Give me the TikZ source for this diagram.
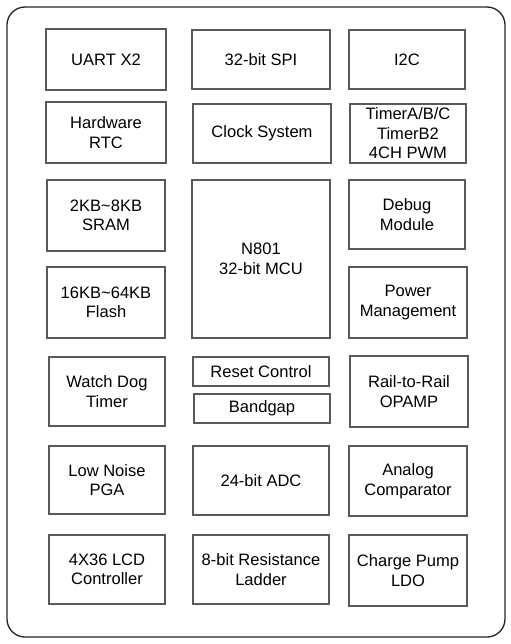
\documentclass[tikz,border=0pt]{standalone}
\usepackage{fontspec}
\setmainfont{Liberation Sans}

\begin{document}
\begin{tikzpicture}[x=0.75pt, y=-0.75pt,
        blk/.style={draw=black!65, line width=0.8pt, align=center, inner sep=0pt,
            font=\fontsize{12.4}{14.6}\selectfont}]
        \useasboundingbox (0, 0) rectangle (511, 644);
        \draw [black!85, line width=1pt, rounded corners=13.5pt] (7, 7) rectangle (505, 637);
        % 左列
        \node [blk, minimum width=90pt, minimum height=45.75pt] (uart) at (106, 59.5) {UART X2};
        \node [blk, minimum width=90pt, minimum height=45.75pt] (rtc) at (106, 132.5) {Hardware\\RTC};
        \node [blk, minimum width=88.5pt, minimum height=53.25pt] (sram) at (106, 215.5) {2KB\textasciitilde 8KB\\SRAM};
        \node [blk, minimum width=88.5pt, minimum height=53.25pt] (flash) at (106, 302.5) {16KB\textasciitilde 64KB\\Flash};
        \node [blk, minimum width=87pt, minimum height=51.75pt] (wdt) at (107, 391.5) {Watch Dog\\Timer};
        \node [blk, minimum width=87pt, minimum height=51pt] (pga) at (107, 480) {Low Noise\\PGA};
        \node [blk, minimum width=87pt, minimum height=51.75pt] (lcd) at (107, 569.5) {4X36 LCD\\Controller};
        % 中列
        \node [blk, minimum width=103.5pt, minimum height=44.25pt] (spi) at (261, 59.5) {32-bit SPI};
        \node [blk, minimum width=103.5pt, minimum height=44.25pt] (clk) at (262, 133.5) {Clock System};
        \node [blk, minimum width=103.5pt, minimum height=118.5pt] (mcu) at (261, 259) {N801\\32-bit MCU};
        \node [blk, minimum width=102pt, minimum height=21.75pt] (rst) at (261, 371.5) {Reset Control};
        \node [blk, minimum width=102pt, minimum height=21.75pt] (bg) at (262, 408.5) {Bandgap};
        \node [blk, minimum width=102pt, minimum height=51.75pt] (adc) at (261, 480.5) {24-bit ADC};
        \node [blk, minimum width=102pt, minimum height=51.75pt] (ladder) at (261, 569.5) {8-bit Resistance\\Ladder};
        % 右列
        \node [blk, minimum width=87pt, minimum height=44.25pt] (iic) at (407, 59.5) {I2C};
        \node [blk, minimum width=87pt, minimum height=44.25pt] (timer) at (408, 133.5) {TimerA/B/C\\TimerB2\\4CH PWM};
        \node [blk, minimum width=87pt, minimum height=51.75pt] (debug) at (407, 214.5) {Debug\\Module};
        \node [blk, minimum width=88.5pt, minimum height=53.25pt] (power) at (408, 302.5) {Power\\Management};
        \node [blk, minimum width=88.5pt, minimum height=53.25pt] (opamp) at (409, 391.5) {Rail-to-Rail\\OPAMP};
        \node [blk, minimum width=88.5pt, minimum height=52.5pt] (cmp) at (408, 481) {Analog\\Comparator};
        \node [blk, minimum width=88.5pt, minimum height=53.25pt] (ldo) at (408, 570.5) {Charge Pump\\LDO};
    \end{tikzpicture}
\end{document}
